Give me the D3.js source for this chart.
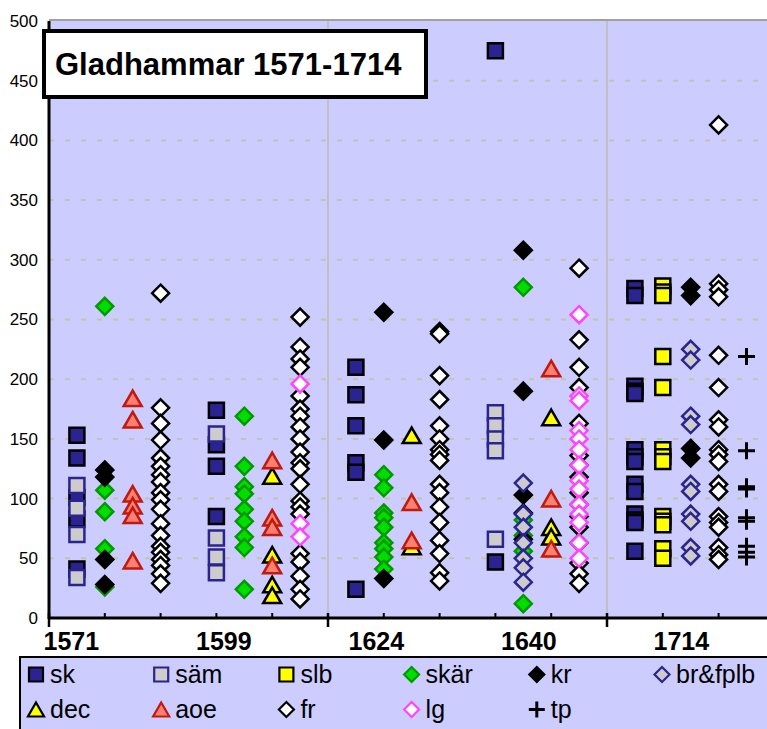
<!DOCTYPE html>
<html>
<head>
<meta charset="utf-8">
<script src="https://cdn.jsdelivr.net/npm/d3@7"></script>
<style>
body { margin: 0; background: #fff; }
svg { display: block; font-family: "Liberation Sans", Arial, sans-serif; }
</style>
</head>
<body>
<script>
const years = ["1571", "1599", "1624", "1640", "1714"];
const yTicks = [0, 50, 100, 150, 200, 250, 300, 350, 400, 450, 500];
const title = "Gladhammar 1571-1714";

// one list of values for each year, in the order of years
const sk = [
  [153, 134, 101, 83, 41],
  [174, 145, 127, 85],
  [210, 187, 161, 130, 122, 24],
  [475, 47],
  [276, 270, 194, 190, 188, 141, 135, 131, 112, 106, 87, 82, 80, 56]
];
const sam = [
  [111, 92, 70, 34],
  [154, 67, 51, 38],
  [],
  [172, 161, 150, 140, 66],
  []
];
const slb = [[], [], [], [], [278, 273, 270, 219, 193, 141, 135, 131, 85, 81, 78, 58, 50]];
const skar = [
  [261, 107, 89, 58, 26],
  [169, 127, 110, 104, 91, 81, 68, 59, 24],
  [120, 109, 88, 84, 76, 63, 58, 51, 41],
  [277, 82, 69, 56, 12],
  []
];
const kr = [
  [124, 118, 49, 28],
  [],
  [256, 149, 33],
  [308, 190, 103, 88, 66],
  [277, 270, 142, 134]
];
const br = [
  [], [], [],
  [113, 87, 76, 63, 50, 42, 30],
  [225, 216, 169, 162, 112, 106, 87, 81, 59, 52]
];
const dec = [[], [119, 53, 28, 19], [153, 60], [168, 76, 68], []];
const aoe = [
  [184, 166, 104, 94, 86, 48],
  [132, 84, 76, 44],
  [97, 65],
  [209, 100, 58],
  []
];
const fr = [
  [272, 176, 163, 149, 134, 127, 120, 114, 105, 99, 91, 79, 69, 60, 55, 49, 44, 37, 29],
  [252, 227, 217, 210, 186, 175, 169, 160, 150, 139, 130, 125, 112, 98, 93, 87, 54, 47, 35, 24, 16],
  [240, 238, 203, 183, 161, 150, 141, 137, 132, 112, 105, 93, 80, 65, 54, 38, 31],
  [293, 233, 210, 193, 163, 136, 128, 118, 105, 95, 85, 76, 63, 46, 37, 29],
  [413, 280, 275, 269, 220, 193, 166, 160, 141, 137, 131, 112, 106, 85, 80, 76, 59, 53, 49]
];
const lg = [
  [],
  [196, 79, 68],
  [],
  [254, 186, 182, 157, 150, 141, 128, 115, 108, 95, 87, 80, 63, 50],
  []
];
const tp = [[], [], [], [], [219, 140, 110, 108, 84, 81, 60, 55, 51]];

const navy = "#2b2390";
const series = [
  {name: "sk", data: sk, slot: 1, shape: "square", fill: navy, stroke: "#000"},
  {name: "säm", data: sam, slot: 1, shape: "square", fill: "#cccccc", stroke: navy},
  {name: "slb", data: slb, slot: 2, shape: "square", fill: "#ffff00", stroke: "#000"},
  {name: "skär", data: skar, slot: 2, shape: "diamond", fill: "#00dd00", stroke: "#009900"},
  {name: "kr", data: kr, slot: 2, shift: true, shape: "diamond", fill: "#000", stroke: "#000"},
  {name: "br&fplb", data: br, slot: 2, shift: true, shape: "diamond", fill: "#cccccc", stroke: navy},
  {name: "dec", data: dec, slot: 3, shape: "triangle", fill: "#ffff00", stroke: "#000"},
  {name: "aoe", data: aoe, slot: 3, shape: "triangle", fill: "#ff8070", stroke: "#c01a10"},
  {name: "fr", data: fr, slot: 4, shape: "diamond", fill: "#fff", stroke: "#000"},
  {name: "lg", data: lg, slot: 4, shape: "diamond", fill: "#fff", stroke: "#ff44ff"},
  {name: "tp", data: tp, slot: 5, shape: "plus", fill: "none", stroke: "#000"}
];

const width = 767, height = 729;
const plotLeft = 49, plotTop = 21, plotBottom = 618;

const x = d3.scaleLinear().domain([0, 26]).range([plotLeft, plotLeft + 27.9 * 26]);
const y = d3.scaleLinear().domain([0, 500]).range([plotBottom, plotTop]);

function shape(type, r) {
  if (type == "square") return `M${-r},${-r}h${2 * r}v${2 * r}h${-2 * r}Z`;
  if (type == "diamond") return `M0,${-r}L${r},0L0,${r}L${-r},0Z`;
  if (type == "triangle") return `M0,${-r}L${r * 1.15},${r}L${-r * 1.15},${r}Z`;
  return `M${-r},0H${r}M0,${-r}V${r}`;
}
const plotR = {square: 7.5, diamond: 8.5, triangle: 7.8, plus: 8.5};
const legR = {square: 7, diamond: 7.5, triangle: 7, plus: 8};

const svg = d3.select("body").append("svg")
    .attr("width", width)
    .attr("height", height);

svg.append("rect")
    .attr("x", plotLeft).attr("y", plotTop)
    .attr("width", width - plotLeft).attr("height", plotBottom - plotTop)
    .attr("fill", "#ccccff");

svg.append("line")
    .attr("x1", plotLeft).attr("x2", width)
    .attr("y1", plotTop - 1).attr("y2", plotTop - 1)
    .attr("stroke", "#a0a0a0").attr("stroke-width", 2);

svg.append("g")
  .selectAll("line")
  .data(yTicks.filter(d => d > 0 && d < 500))
  .join("line")
    .attr("x1", plotLeft).attr("x2", width)
    .attr("y1", d => y(d)).attr("y2", d => y(d))
    .attr("stroke", "#c4c4a8")
    .attr("stroke-width", 2)
    .attr("stroke-dasharray", "5,11");

svg.append("g")
  .selectAll("line")
  .data([10, 20])
  .join("line")
    .attr("x1", d => x(d)).attr("x2", d => x(d))
    .attr("y1", plotTop).attr("y2", plotBottom)
    .attr("stroke", "#c0c0c0")
    .attr("stroke-width", 2);

// y axis labels
svg.append("g")
    .attr("transform", `translate(${plotLeft},0)`)
    .call(d3.axisLeft(y).tickValues(yTicks).tickSize(0).tickPadding(11))
    .call(g => g.select(".domain").remove())
    .call(g => g.selectAll("text")
        .attr("font-size", 17)
        .attr("font-family", "Liberation Sans, Arial, sans-serif")
        .attr("fill", "#000"));

// points
const points = svg.append("g");
series.forEach(s => {
  const pts = [];
  s.data.forEach((vals, g) => vals.forEach(v => {
    pts.push({k: g * 5 + s.slot + (g == 4 && s.shift ? 1 : 0), v: v});
  }));
  points.append("g")
    .selectAll("path")
    .data(pts)
    .join("path")
      .attr("transform", d => `translate(${x(d.k)},${y(d.v)})`)
      .attr("d", shape(s.shape, plotR[s.shape]))
      .attr("fill", s.fill)
      .attr("stroke", s.stroke)
      .attr("stroke-width", s.shape == "plus" ? 3 : 2.5)
      .attr("stroke-linejoin", "miter");
});

// axes lines
svg.append("line")
    .attr("x1", plotLeft).attr("x2", plotLeft)
    .attr("y1", plotTop).attr("y2", plotBottom + 1)
    .attr("stroke", "#000").attr("stroke-width", 3);

svg.append("line")
    .attr("x1", plotLeft).attr("x2", width)
    .attr("y1", plotBottom).attr("y2", plotBottom)
    .attr("stroke", "#000").attr("stroke-width", 3);

svg.append("g")
  .selectAll("line")
  .data(d3.range(2, 27, 2).filter(d => d % 10 != 0))
  .join("line")
    .attr("x1", d => x(d)).attr("x2", d => x(d))
    .attr("y1", plotBottom - 5).attr("y2", plotBottom)
    .attr("stroke", "#000").attr("stroke-width", 2);

svg.append("g")
  .selectAll("line")
  .data([0, 10, 20])
  .join("line")
    .attr("x1", d => x(d)).attr("x2", d => x(d))
    .attr("y1", plotBottom - 5).attr("y2", plotBottom + 9)
    .attr("stroke", "#000").attr("stroke-width", 2.5);

svg.append("g")
  .selectAll("text")
  .data(years)
  .join("text")
    .attr("x", (d, i) => x(0.8 + i * 5.466))
    .attr("y", 650)
    .attr("text-anchor", "middle")
    .attr("font-size", 25)
    .attr("font-weight", "bold")
    .text(d => d);

// title
svg.append("rect")
    .attr("x", 44).attr("y", 31)
    .attr("width", 382).attr("height", 66)
    .attr("fill", "#fff")
    .attr("stroke", "#000").attr("stroke-width", 4);

svg.append("text")
    .attr("x", 55).attr("y", 75)
    .attr("font-size", 31)
    .attr("font-weight", "bold")
    .text(title);

// legend
const legend = svg.append("g");
legend.append("rect")
    .attr("x", 20).attr("y", 657)
    .attr("width", 770).attr("height", 90)
    .attr("fill", "#ccccff")
    .attr("stroke", "#000").attr("stroke-width", 2);

const item = legend.selectAll("g.item")
  .data(series)
  .join("g")
    .attr("class", "item")
    .attr("transform", (d, i) => {
      const col = i < 6 ? i : i - 6;
      const row = i < 6 ? 0 : 1;
      return `translate(${36 + col * 125.2},${row ? 709.5 : 674.5})`;
    });

item.append("path")
    .attr("d", d => shape(d.shape, legR[d.shape]))
    .attr("fill", d => d.fill)
    .attr("stroke", d => d.stroke)
    .attr("stroke-width", d => d.shape == "plus" ? 3 : 2.2);

item.append("text")
    .attr("x", 14)
    .attr("y", 8.5)
    .attr("font-size", 25)
    .text(d => d.name);
</script>
</body>
</html>
